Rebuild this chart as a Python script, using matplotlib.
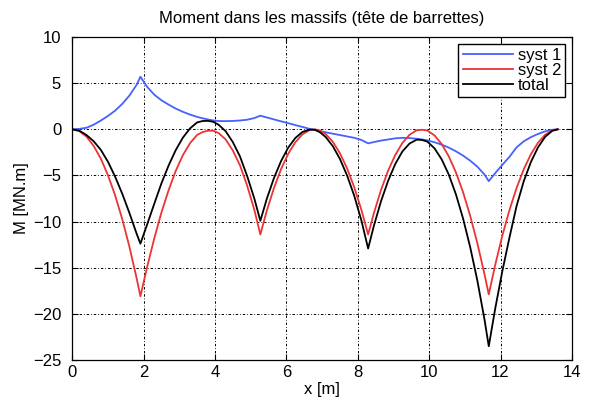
import matplotlib
matplotlib.use("Agg")
import matplotlib.pyplot as plt

plt.rcParams['font.family'] = ['Liberation Sans', 'DejaVu Sans']

x = [0, 0.2, 0.4, 0.6, 0.8, 1.0, 1.2, 1.4, 1.6, 1.8, 1.91,
     2.1, 2.3, 2.5, 2.7, 2.9, 3.1, 3.3, 3.5, 3.65, 3.8, 3.95, 4.1, 4.3, 4.5, 4.7, 4.9, 5.1, 5.27,
     5.45, 5.65, 5.85, 6.05, 6.25, 6.45, 6.65, 6.8, 6.95, 7.1, 7.3, 7.5, 7.7, 7.9, 8.1, 8.29,
     8.45, 8.65, 8.85, 9.05, 9.25, 9.45, 9.65, 9.8, 9.95, 10.15, 10.35, 10.55, 10.75, 10.95, 11.15, 11.35, 11.55, 11.67,
     11.85, 12.05, 12.25, 12.45, 12.65, 12.85, 13.05, 13.25, 13.45, 13.6]

syst1 = [0, 0.05, 0.17, 0.5, 0.95, 1.45, 2.02, 2.75, 3.65, 4.8, 5.7,
         4.6, 3.75, 3.15, 2.68, 2.25, 1.9, 1.6, 1.35, 1.2, 1.07, 0.97, 0.9, 0.89, 0.91, 0.96, 1.04, 1.22, 1.48,
         1.29, 1.08, 0.87, 0.67, 0.46, 0.26, 0.05, -0.05, -0.2, -0.32, -0.47, -0.62, -0.77, -0.92, -1.15, -1.52,
         -1.38, -1.22, -1.1, -0.98, -0.92, -0.95, -1.02, -1.1, -1.2, -1.4, -1.66, -1.98, -2.38, -2.85, -3.4, -4.05, -4.9, -5.62,
         -4.75, -3.85, -2.98, -1.95, -1.3, -0.85, -0.5, -0.22, -0.05, 0]

syst2 = [0, -0.2, -0.79, -1.79, -3.17, -4.96, -7.14, -9.72, -12.7, -16.07, -18.1,
         -14.9, -11.8, -9.0, -6.6, -4.5, -2.8, -1.5, -0.6, -0.3, -0.15, -0.15, -0.4, -1.1, -2.3, -3.9, -6.1, -8.7, -11.4,
         -8.84, -6.38, -4.32, -2.66, -1.4, -0.54, -0.08, 0.0, -0.14, -0.51, -1.35, -2.59, -4.23, -6.27, -8.71, -11.4,
         -9.1, -6.59, -4.48, -2.78, -1.48, -0.59, -0.1, -0.05, -0.13, -0.66, -1.59, -2.93, -4.67, -6.82, -9.38, -12.34, -15.71, -17.9,
         -14.7, -11.53, -8.75, -6.35, -4.33, -2.7, -1.45, -0.59, -0.11, 0]

total = [0, -0.15, -0.62, -1.29, -2.22, -3.51, -5.12, -6.97, -9.05, -11.27, -12.4,
         -10.3, -8.05, -5.85, -3.92, -2.25, -0.9, 0.1, 0.75, 0.9, 0.92, 0.82, 0.5, -0.21, -1.39, -2.94, -5.06, -7.48, -9.92,
         -7.55, -5.3, -3.45, -1.99, -0.94, -0.28, -0.03, -0.05, -0.34, -0.83, -1.82, -3.21, -5.0, -7.19, -9.86, -12.92,
         -10.48, -7.81, -5.58, -3.76, -2.4, -1.54, -1.12, -1.15, -1.33, -2.06, -3.25, -4.91, -7.05, -9.67, -12.78, -16.39, -20.61, -23.52,
         -19.45, -15.38, -11.73, -8.3, -5.63, -3.55, -1.95, -0.81, -0.16, 0]

xticks = [0, 2, 4, 6, 8, 10, 12, 14]
yticks = [-25, -20, -15, -10, -5, 0, 5, 10]

fig = plt.figure(figsize=(5.97, 3.99), dpi=100)
ax = fig.add_axes([0.121, 0.098, 0.837, 0.809])

ax.plot(x, syst1, color=(0.27, 0.38, 1.0), lw=1.3, label='syst 1')
ax.plot(x, syst2, color=(0.93, 0.2, 0.2), lw=1.3, label='syst 2')
ax.plot(x, total, color='black', lw=1.3, label='total')

ax.set_xlim(0, 14)
ax.set_ylim(-25, 10)
ax.set_xticks(xticks)
ax.set_yticks(yticks)
ax.tick_params(direction='in', top=True, right=True, length=4, width=0.8, labelsize=12)
ax.tick_params(axis='y', pad=8)
ax.tick_params(axis='x', pad=4)
ax.grid(True, color='black', linestyle=(0, (2.5, 2, 0.8, 2)), linewidth=0.7)
for s in ax.spines.values():
    s.set_linewidth(0.9)

ax.set_title('Moment dans les massifs (tête de barrettes)', fontsize=12, pad=10)
ax.set_xlabel('x [m]', fontsize=12, labelpad=1)
ax.set_ylabel('M [MN.m]', fontsize=12, labelpad=3)

leg = ax.legend(loc='upper right', fontsize=12, fancybox=False, framealpha=1,
                edgecolor='black', borderaxespad=0.4, handlelength=3.0,
                handletextpad=0.3, labelspacing=0.0, borderpad=0.25)
leg.get_frame().set_linewidth(1.0)

fig.savefig('out.png', dpi=100)
